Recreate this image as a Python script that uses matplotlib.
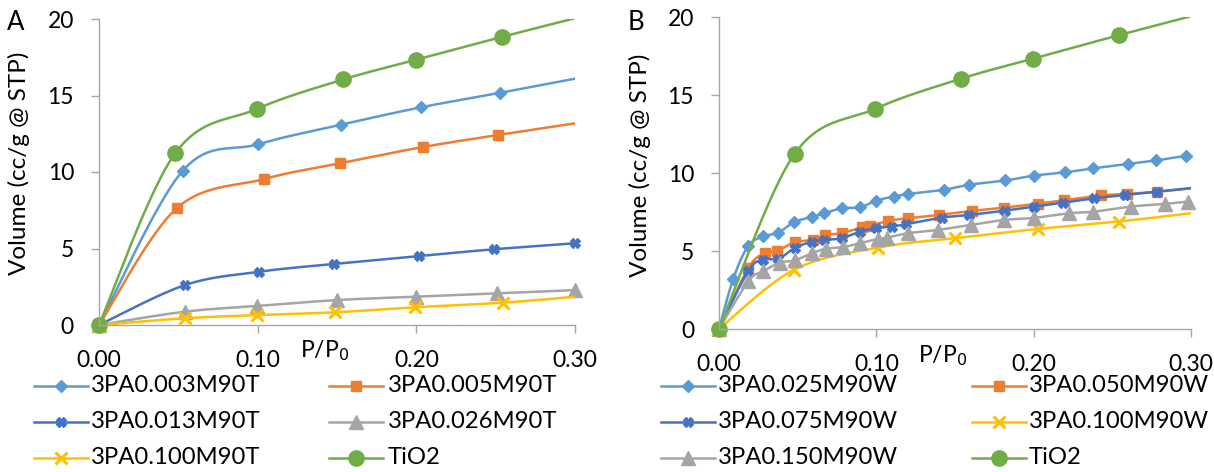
import numpy as np
import matplotlib
matplotlib.use("Agg")
import matplotlib.pyplot as plt
from matplotlib.lines import Line2D
from matplotlib.transforms import blended_transform_factory

plt.rcParams['font.family'] = ['Lato', 'DejaVu Sans']

# ---------------- data ----------------
# Panel A
a_names = ["3PA0.003M90T", "3PA0.005M90T", "3PA0.013M90T", "3PA0.026M90T", "3PA0.100M90T", "TiO2"]
a_003_x = [0, 0.0527, 0.100, 0.1525, 0.203, 0.253, 0.300]
a_003_y = [0, 10.07, 11.81, 13.09, 14.23, 15.18, 16.10]
a_005_x = [0, 0.049, 0.104, 0.152, 0.204, 0.2516, 0.300]
a_005_y = [0, 7.63, 9.54, 10.57, 11.63, 12.42, 13.18]
a_013_x = [0, 0.0542, 0.101, 0.148, 0.2018, 0.249, 0.300]
a_013_y = [0, 2.61, 3.48, 3.99, 4.51, 4.95, 5.34]
a_026_x = [0, 0.054, 0.0994, 0.150, 0.200, 0.2506, 0.300]
a_026_y = [0, 0.87, 1.24, 1.63, 1.85, 2.07, 2.28]
a_100_x = [0, 0.054, 0.0998, 0.149, 0.199, 0.2548, 0.300]
a_100_y = [0, 0.44, 0.65, 0.83, 1.16, 1.46, 1.85]
tio2_x = [0, 0.048, 0.0994, 0.154, 0.1996, 0.254, 0.300]
tio2_y = [0, 11.22, 14.12, 16.05, 17.33, 18.83, 20.05]
# last point drawn with a marker?
a_end_marker = [False, False, True, True, False, False]

# Panel B
b_names = ["3PA0.025M90W", "3PA0.050M90W", "3PA0.075M90W", "3PA0.100M90W", "3PA0.150M90W", "TiO2"]
b_025_x = [0, 0.009, 0.0186, 0.0282, 0.0377, 0.0477, 0.059, 0.067, 0.078, 0.0896, 0.100,
           0.111, 0.120, 0.143, 0.159, 0.182, 0.200, 0.220, 0.238, 0.260, 0.278, 0.297]
b_025_y = [0, 3.20, 5.33, 5.93, 6.18, 6.85, 7.18, 7.42, 7.74, 7.80, 8.23,
           8.49, 8.65, 8.93, 9.25, 9.52, 9.83, 10.04, 10.30, 10.58, 10.81, 11.11]
b_050_x = [0, 0.0186, 0.029, 0.037, 0.048, 0.060, 0.0674, 0.078, 0.0907, 0.096, 0.1076,
           0.120, 0.140, 0.1606, 0.1814, 0.203, 0.2193, 0.2427, 0.2596, 0.2786, 0.300]
b_050_y = [0, 3.90, 4.86, 5.00, 5.56, 5.71, 6.03, 6.14, 6.53, 6.61, 6.93,
           7.10, 7.31, 7.57, 7.78, 8.04, 8.25, 8.56, 8.66, 8.80, 9.02]
b_075_x = [0, 0.0186, 0.028, 0.0377, 0.048, 0.059, 0.067, 0.078, 0.0896, 0.100, 0.110,
           0.119, 0.1416, 0.159, 0.182, 0.2005, 0.2189, 0.2386, 0.258, 0.2783, 0.300]
b_075_y = [0, 3.73, 4.43, 4.50, 5.18, 5.60, 5.71, 5.82, 6.24, 6.46, 6.57,
           6.72, 7.14, 7.31, 7.59, 7.85, 8.10, 8.38, 8.59, 8.80, 9.03]
b_100_x = [0, 0.0477, 0.101, 0.150, 0.2025, 0.254, 0.300]
b_100_y = [0, 3.80, 5.22, 5.82, 6.41, 6.89, 7.42]
b_150_x = [0, 0.0186, 0.028, 0.0388, 0.048, 0.059, 0.068, 0.079, 0.0896, 0.101, 0.1066,
           0.120, 0.139, 0.160, 0.181, 0.200, 0.2225, 0.238, 0.262, 0.2835, 0.298]
b_150_y = [0, 3.05, 3.70, 4.25, 4.40, 4.85, 5.15, 5.25, 5.50, 5.78, 5.85,
           6.14, 6.35, 6.67, 6.99, 7.12, 7.42, 7.52, 7.85, 8.02, 8.17]
b_end_marker = [True, False, False, False, True, False]

x_ticks = [0.0, 0.1, 0.2, 0.3]
x_ticklabels = ["0.00", "0.10", "0.20", "0.30"]
y_ticks = [0, 5, 10, 15, 20]

# ---------------- styles ----------------
a_colors = ["#5B9BD5", "#ED7D31", "#4472C4", "#A5A5A5", "#FFC000", "#70AD47"]
b_colors = ["#5B9BD5", "#ED7D31", "#4472C4", "#FFC000", "#A5A5A5", "#70AD47"]
STY = {
    "#5B9BD5": dict(marker="D", ms=6),
    "#ED7D31": dict(marker="s", ms=7),
    "#4472C4": dict(marker="X", ms=6.5),
    "#A5A5A5": dict(marker="^", ms=10),
    "#FFC000": dict(marker="x", ms=9, mew=2.2),
    "#70AD47": dict(marker="o", ms=11),
}


def smooth(x, y, sx=0.3, sy=20.0, n=30):
    """Excel-like smoothed line (Catmull-Rom Bezier) computed in normalised space."""
    P = np.column_stack([np.asarray(x) / sx, np.asarray(y) / sy * 0.65])
    out = [P[0]]
    m = len(P)
    t = np.linspace(0, 1, n)[1:, None]
    for i in range(m - 1):
        p0 = P[i - 1] if i > 0 else P[i]
        p1, p2 = P[i], P[i + 1]
        p3 = P[i + 2] if i + 2 < m else P[i + 1]
        c1 = p1 + (p2 - p0) / 6.0
        c2 = p2 - (p3 - p1) / 6.0
        seg = ((1 - t) ** 3) * p1 + 3 * ((1 - t) ** 2) * t * c1 + 3 * (1 - t) * t ** 2 * c2 + t ** 3 * p2
        out.extend(seg)
    out = np.array(out)
    return out[:, 0] * sx, out[:, 1] / 0.65 * sy


W, H = 1214, 472
fig = plt.figure(figsize=(W / 100, H / 100), dpi=100)

FS = 16.5
LFS = 17.2


def make_axes(rect_px):
    l, t, r, b = rect_px
    ax = fig.add_axes([l / W, 1 - b / H, (r - l) / W, (b - t) / H])
    for s in ["top", "right"]:
        ax.spines[s].set_visible(False)
    for s in ["left", "bottom"]:
        ax.spines[s].set_color("#A6A6A6")
        ax.spines[s].set_linewidth(1.0)
    ax.set_xlim(0, 0.3)
    ax.set_ylim(0, 20)
    ax.set_xticks(x_ticks)
    ax.set_xticklabels(x_ticklabels)
    ax.set_yticks(y_ticks)
    ax.tick_params(axis="both", colors="#A6A6A6", labelcolor="#000000", labelsize=FS,
                   direction="out", length=6, width=1.0)
    ax.tick_params(axis="x", pad=12)
    ax.tick_params(axis="y", pad=12)
    ax.patch.set_alpha(0)
    return ax


def draw(ax, series, cols, ends):
    for (x, y), c, em in zip(series, cols, ends):
        sx, sy = smooth(x, y)
        ax.plot(sx, sy, color=c, lw=1.8, solid_capstyle="round", clip_on=True)
        idx = list(range(len(x))) if em else list(range(len(x) - 1))
        st = STY[c]
        ax.plot(np.asarray(x)[idx], np.asarray(y)[idx], ls="none", color=c,
                marker=st["marker"], ms=st["ms"], mew=st.get("mew", 1.0), mec=c, mfc=c,
                clip_on=False)


def legend(names, cols, col_x, rows_y):
    # row-major: entry k -> row k//2, col k%2
    for k, (nm, c) in enumerate(zip(names, cols)):
        r, cc = divmod(k, 2)
        lx0, tx = col_x[cc]
        y = 1 - rows_y[r] / H
        st = STY[c]
        fig.add_artist(Line2D([lx0 / W, (lx0 + 54) / W], [y, y], color=c, lw=1.8,
                              transform=fig.transFigure))
        fig.add_artist(Line2D([(lx0 + 27) / W], [y], color=c, ls="none", marker=st["marker"],
                              ms=st["ms"], mew=st.get("mew", 1.0), mec=c, mfc=c,
                              transform=fig.transFigure))
        fig.text(tx / W, y, nm, fontsize=LFS, ha="left", va="center")


axA = make_axes((99, 19, 575, 325))
draw(axA, [(a_003_x, a_003_y), (a_005_x, a_005_y), (a_013_x, a_013_y),
           (a_026_x, a_026_y), (a_100_x, a_100_y), (tio2_x, tio2_y)],
     a_colors, a_end_marker)

axB = make_axes((719, 17, 1191, 329))
draw(axB, [(b_025_x, b_025_y), (b_050_x, b_050_y), (b_075_x, b_075_y),
           (b_100_x, b_100_y), (b_150_x, b_150_y), (tio2_x, tio2_y)],
     b_colors, b_end_marker)

rows = [386, 422, 458]
legend(a_names, a_colors, [(34, 91), (329, 388)], rows)
legend(b_names, b_colors, [(661, 718), (972, 1029)], rows)

for ax in (axA, axB):
    tr = blended_transform_factory(ax.transData, ax.transAxes)
    ax.text(0.142, -0.085, r"P/P$_0$", transform=tr, ha="center", va="center",
            fontsize=FS)

fig.text(16 / W, 1 - 22 / H, "A", fontsize=FS + 2, ha="center", va="center")
fig.text(636 / W, 1 - 22 / H, "B", fontsize=FS + 2, ha="center", va="center")
fig.text(19 / W, 1 - 163 / H, "Volume (cc/g @ STP)", rotation=90, fontsize=FS + 1,
         ha="center", va="center")
fig.text(640 / W, 1 - 165 / H, "Volume (cc/g @ STP)", rotation=90, fontsize=FS + 1,
         ha="center", va="center")

fig.savefig("out.png", dpi=100)
